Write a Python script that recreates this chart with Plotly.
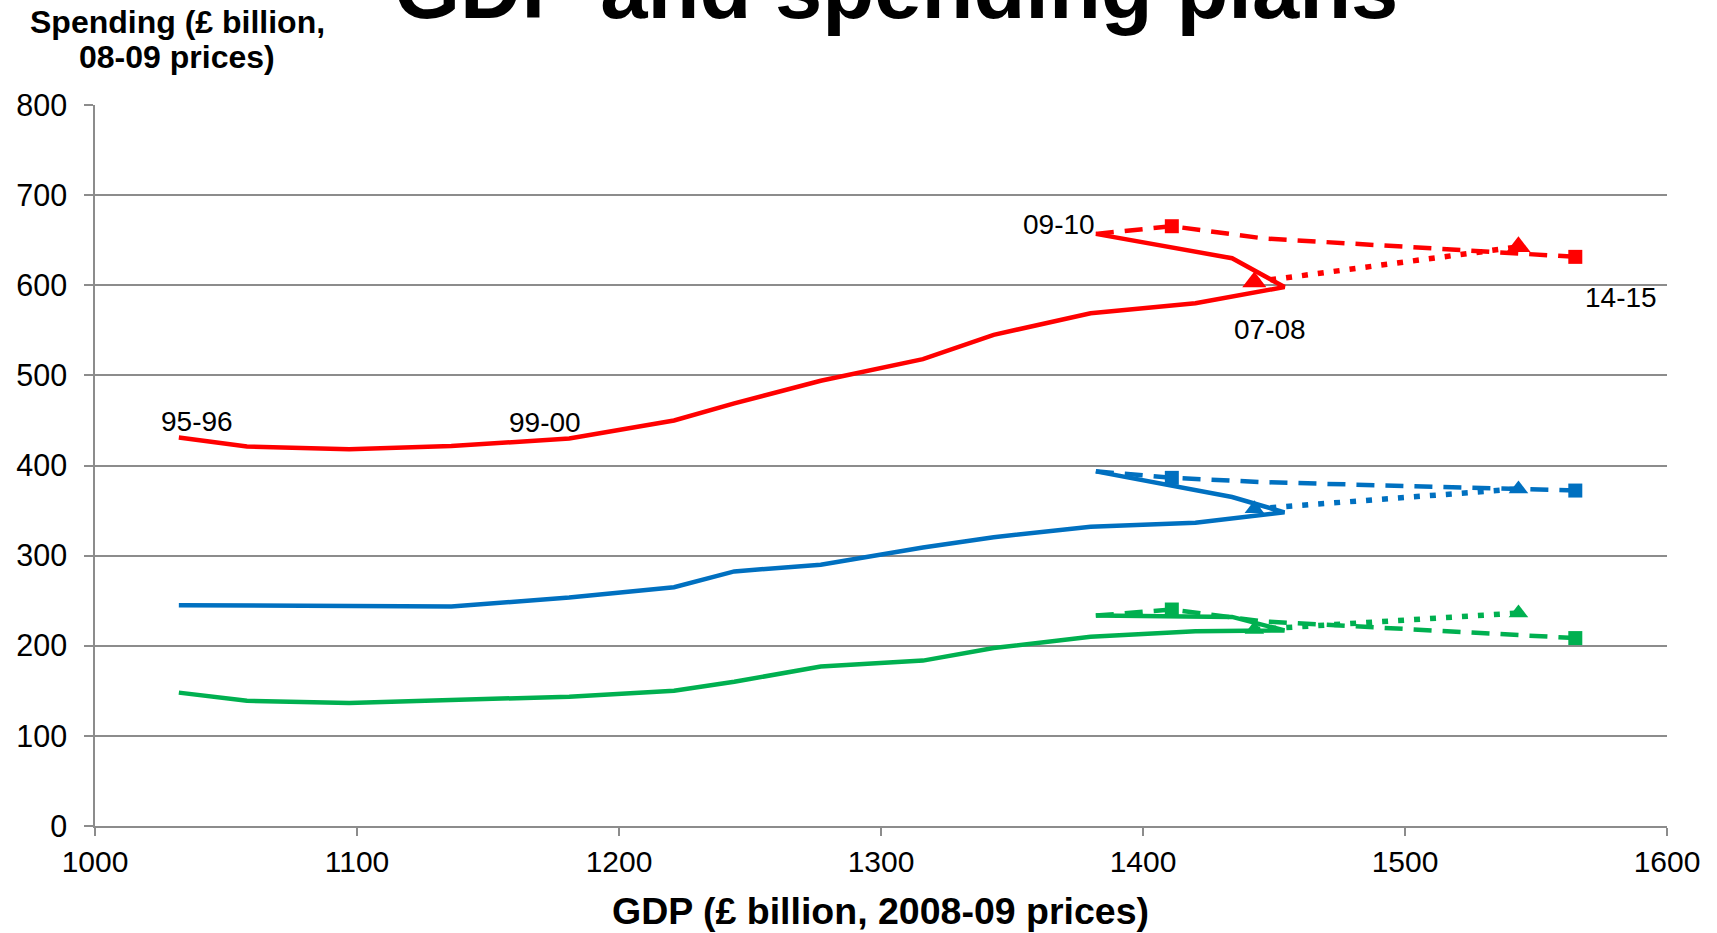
import plotly.graph_objects as go

# ---------------- data ----------------
years = ["95-96", "96-97", "97-98", "98-99", "99-00", "00-01", "01-02", "02-03",
         "03-04", "04-05", "05-06", "06-07", "07-08", "08-09", "09-10"]
gdp = [1032, 1058, 1097, 1136, 1181, 1221, 1244, 1277, 1316, 1343, 1380, 1420, 1454, 1434, 1382]
red_spend = [431, 421, 418, 421.5, 430, 450, 469, 494, 518, 545, 569, 580, 598, 630, 657]
blue_spend = [245, 244.7, 244.3, 243.5, 253.5, 265, 282.5, 290, 309, 320.5, 332, 336.5, 348, 365, 393.5]
green_spend = [148, 139, 136.5, 140, 143.5, 150, 160, 177, 183.5, 197.5, 210, 216, 217, 232, 233.5]

# dashed plans (09-10 onwards, squares at 10-11 and 14-15)
dash_gdp = [1382, 1411, 1446, 1565]
red_dash = [657, 665.5, 652, 631.5]
blue_dash = [393.5, 386.3, 381.5, 372.2]
green_dash = [233.5, 240.2, 227, 208.5]

# dotted plans (triangles)
dot_gdp = [1442.5, 1543.3]
red_dot = [603.7, 642.6]
blue_dot = [351.9, 374]
green_dot = [218, 236.3]

x_ticks = [1000, 1100, 1200, 1300, 1400, 1500, 1600]
y_ticks = [0, 100, 200, 300, 400, 500, 600, 700, 800]

RED, BLUE, GREEN = "#FF0000", "#0070C0", "#00B050"
FONT = "Liberation Sans, Arial, sans-serif"

fig = go.Figure()

for spend, col in [(red_spend, RED), (blue_spend, BLUE), (green_spend, GREEN)]:
    fig.add_trace(go.Scatter(x=gdp, y=spend, mode="lines",
                             line=dict(color=col, width=4.5), showlegend=False,
                             hoverinfo="skip"))

dash_sizes = [0 if i in (0, 2) else 14 for i in range(len(dash_gdp))]
for spend, col in [(red_dash, RED), (blue_dash, BLUE), (green_dash, GREEN)]:
    fig.add_trace(go.Scatter(x=dash_gdp, y=spend, mode="lines+markers",
                             line=dict(color=col, width=4.5, dash="18px,11px"),
                             marker=dict(symbol="square", size=dash_sizes, color=col,
                                         opacity=1, line=dict(width=0)),
                             showlegend=False, hoverinfo="skip"))

for spend, col, sz in [(red_dot, RED, 21), (blue_dot, BLUE, 17), (green_dot, GREEN, 17)]:
    fig.add_trace(go.Scatter(x=dot_gdp, y=spend, mode="lines+markers",
                             line=dict(color=col, width=5.5, dash="6px,10px"),
                             marker=dict(symbol="triangle-up", size=sz, color=col,
                                         opacity=1, line=dict(width=0)),
                             showlegend=False, hoverinfo="skip"))

# year labels attached to data points
labels = [
    (gdp[0], red_spend[0], years[0], 18, 16),
    (gdp[4], red_spend[4], years[4], -24, 16),
    (gdp[14], red_spend[14], years[14], -37, 9),
    (gdp[12], red_spend[12], years[12], -14, -42),
    (dash_gdp[3], red_dash[3], "14-15", 46, -41),
]
for x, y, t, dx, dy in labels:
    fig.add_annotation(x=x, y=y, text=t, showarrow=False, xanchor="center", yanchor="middle",
                       xshift=dx, yshift=dy, font=dict(family=FONT, size=28, color="black"))

# titles
fig.add_annotation(xref="paper", yref="paper", x=0.5095, y=1.0929, xanchor="center",
                   yanchor="bottom", showarrow=False, text="<b>GDP and spending plans</b>",
                   font=dict(family=FONT, size=85, color="black"))
fig.add_annotation(xref="paper", yref="paper", x=(177 - 95) / 1572, y=1.0876, xanchor="center",
                   yanchor="bottom", showarrow=False, text="<b>Spending (£ billion,</b>",
                   font=dict(family=FONT, size=32, color="black"))
fig.add_annotation(xref="paper", yref="paper", x=(177 - 95) / 1572, y=1.0385, xanchor="center",
                   yanchor="bottom", showarrow=False, text="<b>08-09 prices)</b>",
                   font=dict(family=FONT, size=32, color="black"))
fig.add_annotation(xref="paper", yref="paper", x=(880.5 - 95) / 1572, y=-0.1495, xanchor="center",
                   yanchor="bottom", showarrow=False, text="<b>GDP (£ billion, 2008-09 prices)</b>",
                   font=dict(family=FONT, size=37.5, color="black"))

fig.update_layout(
    width=1717, height=933,
    margin=dict(l=95, r=50, t=105, b=107),
    paper_bgcolor="white", plot_bgcolor="white",
    showlegend=False,
    xaxis=dict(range=[1000, 1600], tickvals=x_ticks, showgrid=False, zeroline=False,
               showline=True, linecolor="#8c8c8c", linewidth=1.5,
               ticks="outside", ticklen=8, tickcolor="#8c8c8c", tickwidth=1.5,
               tickfont=dict(family=FONT, size=30, color="black")),
    yaxis=dict(range=[0, 800], tickvals=y_ticks, showgrid=True, gridcolor="#8c8c8c",
               gridwidth=1.5, zeroline=False,
               showline=True, linecolor="#8c8c8c", linewidth=1.5,
               ticks="outside", ticklen=9, tickcolor="#8c8c8c", tickwidth=1.5,
               ticklabelstandoff=11,
               tickfont=dict(family=FONT, size=30.5, color="black")),
)

fig.write_html("out.html", config={"displayModeBar": False},
               post_script="document.body.style.margin='0';")
